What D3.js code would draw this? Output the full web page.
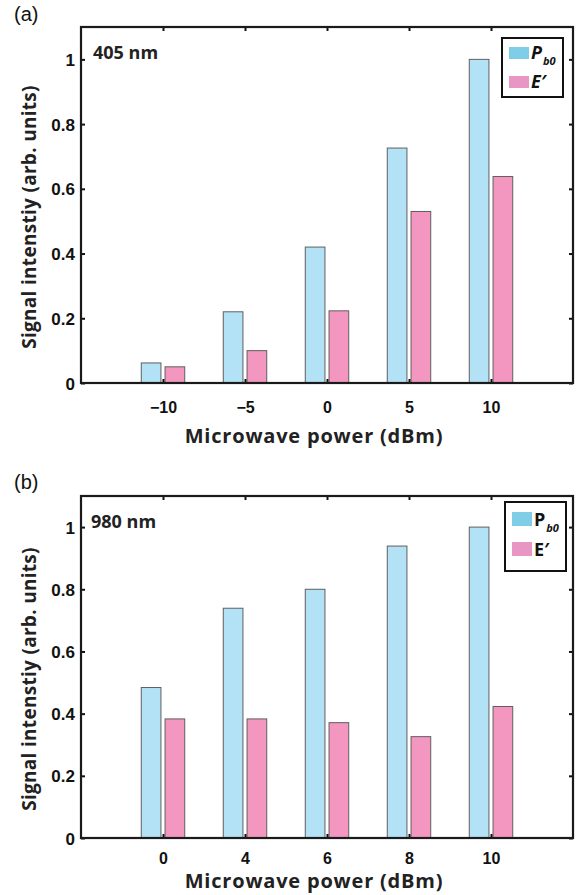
<!DOCTYPE html>
<html>
<head>
<meta charset="utf-8">
<script src="https://cdn.jsdelivr.net/npm/d3@7"></script>
<style>
  html, body { margin: 0; padding: 0; background: #fff; }
  svg { display: block; }
</style>
</head>
<body>
<svg id="chart" width="583" height="895"></svg>
<script>
// ---------- data ----------
const panelALabels = ["\u221210", "\u22125", "0", "5", "10"];
const panelAPb0 = [0.062, 0.22, 0.42, 0.726, 1.0];
const panelAE = [0.05, 0.10, 0.223, 0.53, 0.638];

const panelBLabels = ["0", "4", "6", "8", "10"];
const panelBPb0 = [0.484, 0.739, 0.80, 0.939, 1.0];
const panelBE = [0.383, 0.383, 0.371, 0.326, 0.423];

const yTickValues = [0, 0.2, 0.4, 0.6, 0.8, 1];
const yTickLabels = ["0", "0.2", "0.4", "0.6", "0.8", "1"];

const xAxisTitle = "Microwave power (dBm)";
const yAxisTitle = "Signal intenstiy (arb. units)";

// ---------- styling ----------
const blueFill = "#b3e1f5", pinkFill = "#f397c0";
const blueSw = "#7fcde6", pinkSw = "#e897c4";
const barStroke = "#5f5f5f";
const tickFont = "'Liberation Sans', Arial, sans-serif";
const titleFont = "'Open Sans', 'DejaVu Sans', sans-serif";

const svg = d3.select("#chart");

function drawPanel(cfg) {
  const g = svg.append("g");
  const x = d3.scaleLinear().domain([0, 6]).range([81, 573]);
  const y = d3.scaleLinear().domain([0, 1.1]).range([cfg.bottom, cfg.top]);
  const cats = cfg.labels.map((d, i) => i + 1);
  const bw = 0.24, off = 0.145;

  // bars
  const series = [
    { vals: cfg.pb0, fill: blueFill, dx: -off },
    { vals: cfg.e, fill: pinkFill, dx: off }
  ];
  series.forEach(s => {
    g.selectAll(null).data(s.vals).enter().append("rect")
      .attr("x", (d, i) => x(cats[i] + s.dx - bw / 2))
      .attr("width", x(bw) - x(0))
      .attr("y", d => y(d))
      .attr("height", d => y(0) - y(d))
      .attr("fill", s.fill)
      .attr("stroke", barStroke)
      .attr("stroke-width", 1);
  });

  // axes with inward ticks
  const xb = d3.axisBottom(x).tickValues(cats).tickSize(-4).tickFormat((d, i) => cfg.labels[i]);
  const xt = d3.axisTop(x).tickValues(cats).tickSize(-4).tickFormat("");
  const yl = d3.axisLeft(y).tickValues(yTickValues).tickSize(-4).tickFormat((d, i) => yTickLabels[i]);
  const yr = d3.axisRight(y).tickValues(yTickValues).tickSize(-4).tickFormat("");

  const axB = g.append("g").attr("transform", `translate(0,${cfg.bottom})`).call(xb);
  const axT = g.append("g").attr("transform", `translate(0,${cfg.top})`).call(xt);
  const axL = g.append("g").attr("transform", `translate(81,0)`).call(yl);
  const axR = g.append("g").attr("transform", `translate(573,0)`).call(yr);
  [axB, axT, axL, axR].forEach(a => {
    a.select(".domain").remove();
    a.selectAll(".tick line").attr("stroke", "#111").attr("stroke-width", 2);
  });
  axB.selectAll(".tick text")
    .attr("y", 0).attr("dy", 0)
    .attr("transform", `translate(0,${cfg.labelOff})`)
    .attr("font-family", tickFont).attr("font-weight", "bold")
    .attr("font-size", 16).attr("fill", "#111");
  axL.selectAll(".tick text")
    .attr("x", -6).attr("dy", "0.36em")
    .attr("font-family", tickFont).attr("font-weight", "bold")
    .attr("font-size", 17).attr("fill", "#111");

  // box
  g.append("rect")
    .attr("x", 81).attr("y", cfg.top)
    .attr("width", 573 - 81).attr("height", cfg.bottom - cfg.top)
    .attr("fill", "none").attr("stroke", "#1a1a1a").attr("stroke-width", 2.2);

  // panel letter
  g.append("text").attr("x", 14).attr("y", cfg.letterY)
    .attr("font-family", tickFont).attr("font-size", 20).attr("fill", "#111")
    .text(cfg.letter);

  // wavelength label
  g.append("text").attr("x", cfg.wlX).attr("y", cfg.top + 32)
    .attr("font-family", titleFont).attr("font-weight", "bold")
    .attr("font-size", 18).attr("fill", "#222")
    .text(cfg.wl);

  // axis titles
  g.append("text").attr("x", 314).attr("y", cfg.bottom + cfg.titleOff)
    .attr("text-anchor", "middle")
    .attr("font-family", titleFont).attr("font-weight", "bold")
    .attr("font-size", 20).attr("letter-spacing", 0.8).attr("fill", "#222")
    .text(xAxisTitle);
  g.append("text")
    .attr("transform", `translate(36,${(cfg.top + cfg.bottom) / 2 + 12}) rotate(-90)`)
    .attr("text-anchor", "middle")
    .attr("font-family", titleFont).attr("font-weight", "bold")
    .attr("font-size", 19).attr("letter-spacing", 0.3).attr("fill", "#222")
    .text(yAxisTitle);

  // legend
  const L = cfg.legend;
  g.append("rect").attr("x", L.x).attr("y", L.y).attr("width", L.w).attr("height", L.h)
    .attr("fill", "#fff").attr("stroke", "#111").attr("stroke-width", 2);
  const items = [
    { fill: blueSw, main: "P", sub: "b0" },
    { fill: pinkSw, main: "E\u2032", sub: "" }
  ];
  items.forEach((it, i) => {
    const yy = L.y + L.pad + i * L.gap;
    g.append("rect").attr("x", L.x + 7).attr("y", yy).attr("width", 20).attr("height", L.sw)
      .attr("fill", it.fill);
    const t = g.append("text").attr("x", L.x + 29).attr("y", yy + L.sw)
      .attr("font-family", titleFont).attr("font-weight", "bold")
      .attr("font-size", 18).attr("fill", "#111")
      .attr("font-style", cfg.italicMain ? "italic" : "normal");
    t.append("tspan").text(it.main);
    if (it.sub) {
      t.append("tspan").attr("dy", 6).attr("font-size", 11).attr("font-style", "italic")
        .attr("dx", 1).text(it.sub);
    }
  });
}

drawPanel({
  top: 27, bottom: 383, labels: panelALabels, pb0: panelAPb0, e: panelAE,
  letter: "(a)", letterY: 21, wl: "405 nm", wlX: 93, labelOff: 30, titleOff: 60, italicMain: true,
  legend: { x: 502, y: 38, w: 61, h: 59, pad: 9, gap: 29, sw: 12 }
});
drawPanel({
  top: 496, bottom: 838, labels: panelBLabels, pb0: panelBPb0, e: panelBE,
  letter: "(b)", letterY: 489, wl: "980 nm", wlX: 91, labelOff: 26, titleOff: 50, italicMain: false,
  legend: { x: 505, y: 502, w: 61, h: 69, pad: 10, gap: 30, sw: 14 }
});
</script>
</body>
</html>
